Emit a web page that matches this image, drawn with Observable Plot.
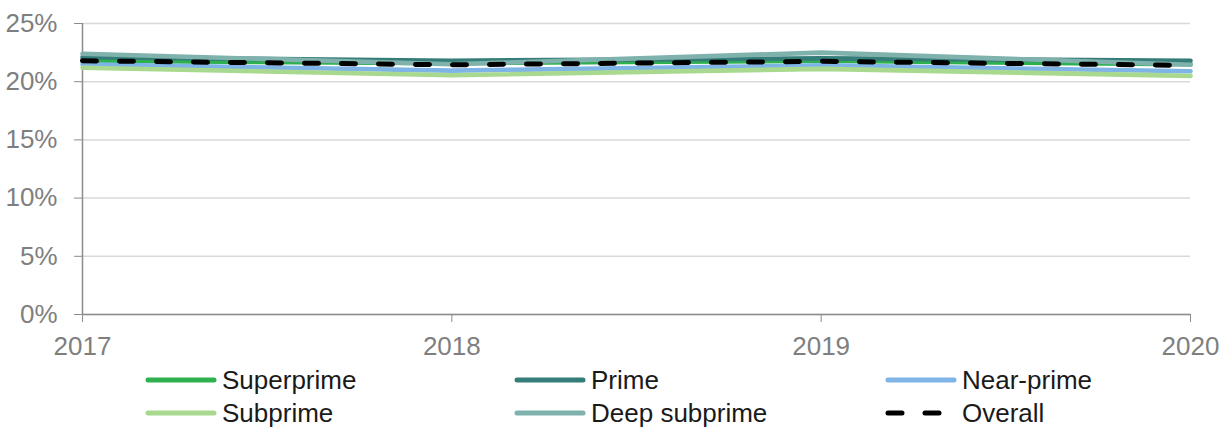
<!DOCTYPE html>
<html>
<head>
<meta charset="utf-8">
<script src="https://cdn.jsdelivr.net/npm/d3@7"></script>
<script src="https://cdn.jsdelivr.net/npm/@observablehq/plot@0.6"></script>
<style>
  html, body { margin: 0; padding: 0; background: #fff; }
  body { width: 1231px; height: 430px; overflow: hidden; font-family: "Liberation Sans", Arial, sans-serif; }
  #legend { position: relative; width: 1231px; height: 70px; }
  .item { position: absolute; display: flex; align-items: center; font-size: 26px; color: #1a1a1a; line-height: 1; }
  .item svg { margin-right: 5px; }
</style>
</head>
<body>
<div id="chart"></div>
<div id="legend"></div>
<script>
const years = [2017, 2018, 2019, 2020];
const superprime   = [21.8, 21.6, 21.8, 21.5];
const prime        = [22.1, 21.8, 22.0, 21.8];
const nearPrime    = [21.5, 20.95, 21.4, 20.9];
const subprime     = [21.2, 20.55, 21.1, 20.5];
const deepSubprime = [22.4, 21.5, 22.5, 21.45];
const overall      = [21.8, 21.45, 21.75, 21.4];
const yTicks = [0, 5, 10, 15, 20, 25];

const seriesNames  = ["Superprime", "Prime", "Near-prime", "Subprime", "Deep subprime", "Overall"];
const seriesValues = [superprime, prime, nearPrime, subprime, deepSubprime, overall];
const seriesColors = ["#2eb04f", "#357d78", "#7fb5e6", "#a8d98e", "#7fb1ad", "#000000"];

const data = seriesNames.flatMap((name, i) =>
  years.map((yr, j) => ({series: name, year: yr, value: seriesValues[i][j]})));

const lineMarks = seriesNames.map((name, i) =>
  Plot.line(data.filter(d => d.series === name), {
    x: "year", y: "value",
    stroke: seriesColors[i],
    strokeWidth: name === "Overall" ? 5 : 4.6,
    strokeLinecap: "round",
    strokeLinejoin: "round",
    strokeDasharray: name === "Overall" ? "14,23" : null
  }));

const chart = Plot.plot({
  width: 1231,
  height: 360,
  marginLeft: 82,
  marginRight: 41,
  marginTop: 23,
  marginBottom: 46,
  style: {fontFamily: "'Liberation Sans', Arial, sans-serif", fontSize: "26px", color: "#7f7f7f", background: "#fff"},
  x: {domain: [2017, 2020], ticks: years, tickFormat: d => String(d), label: null},
  y: {domain: [0, 25], ticks: yTicks, tickFormat: d => d + "%", label: null},
  marks: [
    Plot.gridY(yTicks, {stroke: "#d9d9d9", strokeOpacity: 1, strokeWidth: 1.5}),
    Plot.ruleY([0], {stroke: "#8c8c8c", strokeWidth: 1.5}),
    Plot.ruleX([2017], {stroke: "#8c8c8c", strokeWidth: 1.5}),
    Plot.axisX({ticks: years, tickFormat: d => String(d), tickSize: 8, tickPadding: 14, stroke: "#8c8c8c", fill: "#7f7f7f", label: null}),
    Plot.axisY({ticks: yTicks, tickFormat: d => d + "%", tickSize: 8, tickPadding: 17, stroke: "#8c8c8c", fill: "#7f7f7f", label: null}),
    ...lineMarks
  ]
});
document.getElementById("chart").appendChild(chart);

// Legend
const legendPos = [
  [145, 20], [514, 20], [885, 20],
  [145, 53], [514, 53], [885, 53]
];
const legendOrder = ["Superprime", "Prime", "Near-prime", "Subprime", "Deep subprime", "Overall"];
const legend = document.getElementById("legend");
legendOrder.forEach((name, k) => {
  const i = seriesNames.indexOf(name);
  const div = document.createElement("div");
  div.className = "item";
  div.style.left = legendPos[k][0] + "px";
  div.style.top = (legendPos[k][1] - 15) + "px";
  const dash = name === "Overall" ? 'stroke-dasharray="14,23"' : "";
  div.innerHTML = `<svg width="72" height="30"><line x1="3" y1="15" x2="69" y2="15" stroke="${seriesColors[i]}" stroke-width="5" stroke-linecap="round" ${dash}/></svg><span>${name}</span>`;
  legend.appendChild(div);
});
</script>
</body>
</html>
